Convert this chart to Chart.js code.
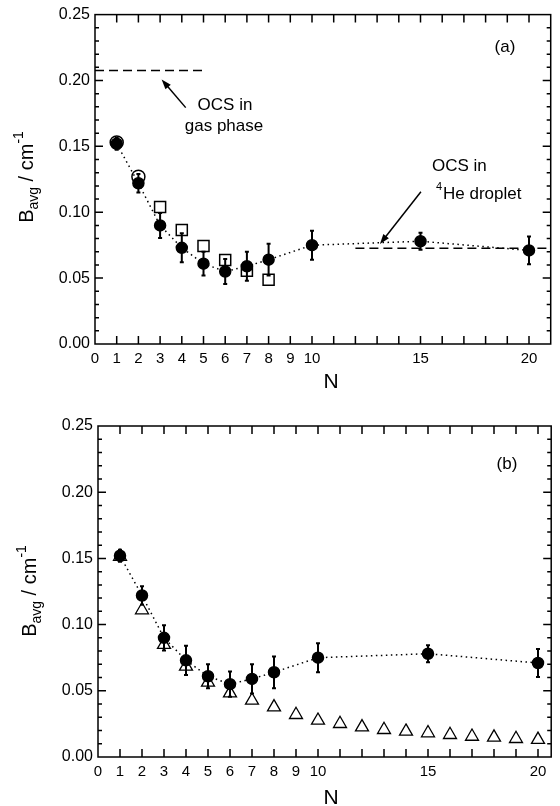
<!DOCTYPE html>
<html>
<head>
<meta charset="utf-8">
<script src="https://cdn.jsdelivr.net/npm/chart.js@4.4.0/dist/chart.umd.min.js"></script>
<style>
  body { margin: 0; background: #fff; }
  .panel { position: absolute; left: 0; width: 560px; height: 403px; }
</style>
</head>
<body>
<div class="panel" style="top:0"><canvas id="chartA" width="560" height="403"></canvas></div>
<div class="panel" style="top:403px"><canvas id="chartB" width="560" height="403"></canvas></div>
<script>
// values
const nFilled = [1, 2, 3, 4, 5, 6, 7, 8, 10, 15, 20];
const bFilled = [0.152, 0.122, 0.090, 0.073, 0.061, 0.055, 0.059, 0.064, 0.075, 0.078, 0.071];
const errFilled = [0.0045, 0.007, 0.0095, 0.011, 0.009, 0.0095, 0.011, 0.012, 0.011, 0.0064, 0.0105];

const nOpenCircle = [1, 2];
const bOpenCircle = [0.153, 0.127];

const nSquare = [3, 4, 5, 6, 7, 8];
const bSquare = [0.104, 0.0865, 0.0744, 0.0638, 0.0557, 0.0487];

const nTriangle = [1, 2, 3, 4, 5, 6, 7, 8, 9, 10, 11, 12, 13, 14, 15, 16, 17, 18, 19, 20];
const bTriangle = [0.1514, 0.111, 0.0848, 0.0684, 0.0563, 0.0483, 0.0427, 0.0377, 0.0319, 0.0276,
                   0.0251, 0.0226, 0.0206, 0.0193, 0.0181, 0.0168, 0.0155, 0.0148, 0.0138, 0.0131];

const xGasPhase = [0, 5];
const bGasPhase = 0.2076;
const xDroplet = [12, 21];
const bDroplet = 0.0727;

// arrows: [x tail, y tail, x tip, y tip] in data units
const arrowGas = [4.18, 0.1794, 3.07, 0.2008];
const arrowDroplet = [15.02, 0.1155, 13.13, 0.0759];

const xTickLabels = [0, 1, 2, 3, 4, 5, 6, 7, 8, 9, 10, 15, 20];

const FONT = '"Liberation Sans", Arial, Helvetica, sans-serif';

function pts(xs, ys) {
  return xs.map((x, i) => ({ x: x, y: Array.isArray(ys) ? ys[i] : ys }));
}

function drawArrow(ctx, x1, y1, x2, y2) {
  const ang = Math.atan2(y2 - y1, x2 - x1);
  const hl = 10, hw = 3.5;
  ctx.beginPath();
  ctx.moveTo(x1, y1);
  ctx.lineTo(x2 - hl * 0.8 * Math.cos(ang), y2 - hl * 0.8 * Math.sin(ang));
  ctx.stroke();
  ctx.beginPath();
  ctx.moveTo(x2, y2);
  ctx.lineTo(x2 - hl * Math.cos(ang) + hw * Math.sin(ang), y2 - hl * Math.sin(ang) - hw * Math.cos(ang));
  ctx.lineTo(x2 - hl * Math.cos(ang) - hw * Math.sin(ang), y2 - hl * Math.sin(ang) + hw * Math.cos(ang));
  ctx.closePath();
  ctx.fill();
}

// frame with inward ticks on all four sides
const framePlugin = {
  id: 'frame',
  afterDraw(chart) {
    const { ctx, chartArea: a, scales: { x, y } } = chart;
    ctx.save();
    ctx.strokeStyle = '#000';
    ctx.lineWidth = 1.5;
    ctx.strokeRect(a.left, a.top, a.right - a.left, a.bottom - a.top);
    ctx.beginPath();
    for (let n = 1; n < x.max; n++) {
      const px = x.getPixelForValue(n);
      ctx.moveTo(px, a.bottom); ctx.lineTo(px, a.bottom - 8);
      ctx.moveTo(px, a.top); ctx.lineTo(px, a.top + 8);
    }
    for (let k = 1; k < 25; k++) {
      const py = y.getPixelForValue(k / 100);
      const len = k % 5 === 0 ? 8 : 4;
      ctx.moveTo(a.left, py); ctx.lineTo(a.left + len, py);
      ctx.moveTo(a.right, py); ctx.lineTo(a.right - len, py);
    }
    ctx.stroke();
    ctx.restore();
  }
};

// vertical error bars for datasets carrying an "errors" array
const errorBarPlugin = {
  id: 'errbars',
  afterDatasetsDraw(chart) {
    const { ctx, scales: { x, y } } = chart;
    ctx.save();
    ctx.strokeStyle = '#000';
    ctx.lineWidth = 2;
    chart.data.datasets.forEach(ds => {
      if (!ds.errors) return;
      ds.data.forEach((p, i) => {
        const px = x.getPixelForValue(p.x);
        const top = y.getPixelForValue(p.y + ds.errors[i]);
        const bot = y.getPixelForValue(p.y - ds.errors[i]);
        ctx.beginPath();
        ctx.moveTo(px, top); ctx.lineTo(px, bot);
        ctx.moveTo(px - 2, top); ctx.lineTo(px + 2, top);
        ctx.moveTo(px - 2, bot); ctx.lineTo(px + 2, bot);
        ctx.stroke();
      });
    });
    ctx.restore();
  }
};

function drawYTitle(ctx, bx, cy) {
  const big = '20px ' + FONT, small = '14px ' + FONT;
  const parts = [['B', big, 0], ['avg', small, 5], [' / cm', big, 0], ['-1', small, -10]];
  let total = 0;
  parts.forEach(p => { ctx.font = p[1]; total += ctx.measureText(p[0]).width; });
  ctx.save();
  ctx.translate(bx, cy);
  ctx.rotate(-Math.PI / 2);
  ctx.fillStyle = '#000';
  ctx.textBaseline = 'alphabetic';
  ctx.textAlign = 'left';
  let cx = -total / 2;
  parts.forEach(p => {
    ctx.font = p[1];
    ctx.fillText(p[0], cx, p[2]);
    cx += ctx.measureText(p[0]).width;
  });
  ctx.restore();
}

function makePanel(id, geo, datasets, annotate) {
  const textPlugin = {
    id: 'texts',
    afterDraw(chart) {
      const ctx = chart.ctx;
      ctx.save();
      ctx.fillStyle = '#000';
      ctx.strokeStyle = '#000';
      ctx.lineWidth = 1.5;
      drawYTitle(ctx, geo.titleX, geo.titleY);
      ctx.font = '21px ' + FONT;
      ctx.textAlign = 'center';
      ctx.textBaseline = 'alphabetic';
      ctx.fillText('N', 331, geo.nBase);
      annotate(chart, ctx);
      ctx.restore();
    }
  };
  return new Chart(document.getElementById(id), {
    type: 'scatter',
    data: { datasets: datasets },
    options: {
      responsive: false,
      animation: false,
      events: [],
      layout: { padding: { top: geo.top, right: 560 - geo.right, left: 0, bottom: 0 } },
      plugins: { legend: { display: false }, tooltip: { enabled: false } },
      scales: {
        x: {
          type: 'linear', min: 0, max: geo.xMax,
          afterFit(s) { s.height = 403 - geo.bottom; },
          grid: { display: false, drawTicks: false },
          border: { display: false },
          ticks: {
            stepSize: 1, autoSkip: false, includeBounds: false, maxRotation: 0,
            padding: 6, color: '#000', font: { family: FONT, size: 15 },
            callback: v => xTickLabels.includes(v) ? String(v) : ''
          }
        },
        y: {
          type: 'linear', min: 0, max: 0.25,
          afterFit(s) { s.width = geo.left; },
          grid: { display: false, drawTicks: false },
          border: { display: false },
          ticks: {
            stepSize: 0.05, includeBounds: false, padding: 5, color: '#000',
            font: { family: FONT, size: 16 },
            callback: v => v.toFixed(2)
          }
        }
      }
    },
    plugins: [framePlugin, errorBarPlugin, textPlugin]
  });
}

function filledSet() {
  return {
    data: pts(nFilled, bFilled), errors: errFilled,
    showLine: true, borderColor: '#000', borderWidth: 1.5, borderDash: [1.5, 3.5],
    pointStyle: 'circle', pointRadius: 5.5, pointBackgroundColor: '#000', pointBorderColor: '#000'
  };
}

// panel (a)
makePanel('chartA',
  { left: 95, right: 558, top: 14, bottom: 344, xMax: 21, titleX: 33, titleY: 177, nBase: 388 },
  [
    filledSet(),
    { data: pts(nOpenCircle, bOpenCircle), pointStyle: 'circle', pointRadius: 6.5,
      pointBackgroundColor: '#fff', pointBorderColor: '#000', pointBorderWidth: 1.5 },
    { data: pts(nSquare, bSquare), pointStyle: 'rect', pointRadius: 7.8,
      pointBackgroundColor: '#fff', pointBorderColor: '#000', pointBorderWidth: 1.5 },
    { data: pts(xGasPhase, bGasPhase), showLine: true, pointRadius: 0,
      borderColor: '#000', borderWidth: 1.5, borderDash: [9, 5] },
    { data: pts(xDroplet, bDroplet), showLine: true, pointRadius: 0,
      borderColor: '#000', borderWidth: 1.5, borderDash: [9, 5] }
  ],
  (chart, ctx) => {
    const { x, y } = chart.scales;
    [arrowGas, arrowDroplet].forEach(a => drawArrow(ctx,
      x.getPixelForValue(a[0]), y.getPixelForValue(a[1]),
      x.getPixelForValue(a[2]), y.getPixelForValue(a[3])));
    ctx.font = '17px ' + FONT;
    ctx.textAlign = 'center';
    ctx.fillText('(a)', 505, 52);
    ctx.fillText('OCS in', 225, 110);
    ctx.fillText('gas phase', 224, 131);
    ctx.textAlign = 'left';
    ctx.fillText('OCS in', 432, 171);
    ctx.fillText('He droplet', 443, 199);
    ctx.font = '11px ' + FONT;
    ctx.fillText('4', 436, 190);
  });

// panel (b)
makePanel('chartB',
  { left: 98, right: 553, top: 23, bottom: 354, xMax: 20.6, titleX: 36, titleY: 188, nBase: 401 },
  [
    filledSet(),
    { data: pts(nTriangle, bTriangle), pointStyle: 'triangle', pointRadius: 7.5,
      pointBackgroundColor: '#fff', pointBorderColor: '#000', pointBorderWidth: 1.3 }
  ],
  (chart, ctx) => {
    ctx.font = '17px ' + FONT;
    ctx.textAlign = 'center';
    ctx.fillText('(b)', 507, 66);
  });
</script>
</body>
</html>
